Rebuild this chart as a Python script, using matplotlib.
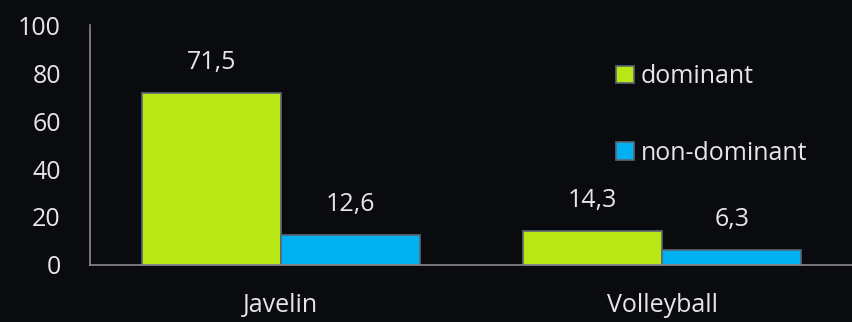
import matplotlib.pyplot as plt
import numpy as np

sports = ["Javelin", "Volleyball"]
dominant = [71.5, 14.3]
non_dominant = [12.6, 6.3]
labels_dom = ["71,5", "14,3"]
labels_non = ["12,6", "6,3"]
yticks = [0, 20, 40, 60, 80, 100]

bg = "#0a0b0f"
txt = "#e6e6e6"
green = "#b9e715"
blue = "#00b0f0"
edge = "#5b6675"

plt.rcParams['font.family'] = ['Open Sans', 'DejaVu Sans']

fig = plt.figure(figsize=(8.53, 3.22), dpi=100, facecolor=bg)
ax = fig.add_axes([90 / 853, (322 - 265) / 322, (853 - 90) / 853, 240 / 322])
ax.set_facecolor(bg)

x = np.arange(len(sports))
w = 0.364
b1 = ax.bar(x - w / 2, dominant, w, color=green, edgecolor=edge, linewidth=1.2, label="dominant")
b2 = ax.bar(x + w / 2, non_dominant, w, color=blue, edgecolor=edge, linewidth=1.2, label="non-dominant")

for bars, labs in ((b1, labels_dom), (b2, labels_non)):
    for r, lab in zip(bars, labs):
        ax.annotate(lab, (r.get_x() + r.get_width() / 2, r.get_height()),
                    xytext=(0, 22), textcoords="offset points",
                    ha="center", va="center", color=txt, fontsize=18)

ax.set_xlim(-0.5, 1.5)
ax.set_ylim(0, 100)
ax.set_yticks(yticks)
ax.set_xticks(x)
ax.set_xticklabels(sports)
ax.tick_params(length=0, colors=txt, labelsize=18)
ax.tick_params(axis="y", pad=21)
ax.tick_params(axis="x", pad=20)
for s in ("top", "right"):
    ax.spines[s].set_visible(False)
for s in ("left", "bottom"):
    ax.spines[s].set_color("#8a8a8a")
    ax.spines[s].set_linewidth(1.2)

leg = ax.legend(loc="upper left", bbox_to_anchor=(0.66, 0.93), frameon=False,
                fontsize=18, labelcolor=txt, handlelength=0.7, handleheight=0.7,
                handletextpad=0.3, labelspacing=2.05)

fig.savefig("out.png", dpi=100, facecolor=bg)
